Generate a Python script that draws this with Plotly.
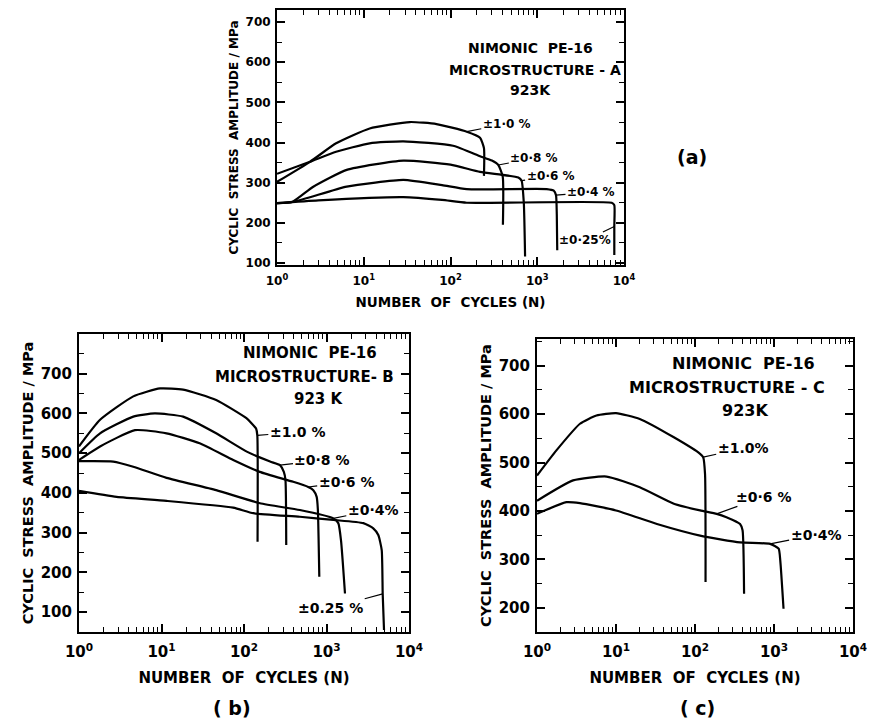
import math
import plotly.graph_objects as go

# ---------------- data ----------------
strain_labels_a = ["±1·0 %", "±0·8 %", "±0·6 %", "±0·4 %", "±0·25%"]
a_N_10 = [1, 2.4, 4.8, 11.7, 34, 69, 154, 219, 243, 243]
a_S_10 = [302, 352, 398, 435, 451, 446, 427, 412, 386, 317]
a_N_08 = [1, 2.4, 4.8, 11.7, 28.6, 107, 219, 300, 356, 400, 402]
a_S_08 = [322, 352, 377, 398, 403, 392, 366, 355, 344, 315, 195]
a_N_06 = [1, 1.5, 2.62, 6.36, 28.6, 100, 219, 605, 660, 700, 724]
a_S_06 = [249, 252, 290, 332, 355, 345, 327, 313, 305, 250, 116]
a_N_04 = [1, 1.6, 6.36, 28.6, 80, 154, 1285, 1550, 1645, 1680, 1700]
a_S_04 = [249, 253, 290, 307, 294, 284, 284, 280, 269, 220, 132]
a_N_025 = [1, 3, 28.6, 80, 154, 7210, 7730, 7730, 7730]
a_S_025 = [249, 256, 264, 257, 250, 250, 244, 191, 120]

strain_labels_b = ["±1.0 %", "±0·8 %", "±0·6 %", "±0·4%", "±0.25 %"]
b_N_10 = [1, 1.8, 4.55, 9.6, 18.3, 46, 107, 124, 140, 145, 146]
b_S_10 = [517, 584, 643, 663, 660, 634, 588, 575, 562, 545, 277]
b_N_08 = [1, 1.8, 4.55, 8.3, 18.3, 46, 108, 207, 273, 304, 318, 325]
b_S_08 = [500, 550, 592, 600, 592, 550, 504, 479, 470, 453, 433, 269]
b_N_06 = [1, 1.8, 4.77, 11.5, 29, 74, 155, 395, 600, 692, 760, 785, 818]
b_S_06 = [483, 517, 558, 550, 525, 483, 453, 428, 415, 407, 390, 360, 189]
b_N_04 = [1, 2.6, 4.55, 11.5, 46, 156, 475, 1210, 1390, 1500, 1675]
b_S_04 = [480, 479, 466, 438, 407, 374, 357, 336, 324, 280, 147]
b_N_025 = [1, 2.86, 11.5, 74, 130, 475, 1210, 2795, 3690, 4245, 4670, 4800, 4980]
b_S_025 = [405, 390, 380, 363, 349, 340, 332, 324, 311, 294, 256, 146, 55]

strain_labels_c = ["±1.0%", "±0·6 %", "±0·4%"]
c_N_10 = [1, 1.76, 3.5, 5.66, 10, 20, 54, 116, 127, 134, 136]
c_S_10 = [473, 525, 580, 597, 602, 590, 552, 518, 511, 476, 253]
c_N_06 = [1, 2.86, 7.6, 20, 54, 116, 188, 250, 372, 400, 418]
c_S_06 = [421, 463, 471, 449, 415, 401, 394, 387, 373, 360, 229]
c_N_04 = [1, 2.36, 3.5, 10, 33, 116, 372, 893, 1145, 1200, 1320]
c_S_04 = [394, 418, 416, 401, 373, 349, 335, 332, 322, 298, 198]

x_tick_vals = [1, 10, 100, 1000, 10000]
x_tick_text = ["10<sup>0</sup>", "10<sup>1</sup>", "10<sup>2</sup>", "10<sup>3</sup>", "10<sup>4</sup>"]
y_tick_vals = [100, 200, 300, 400, 500, 600, 700]
y_tick_vals_c = [200, 300, 400, 500, 600, 700]

heading_a = ["NIMONIC  PE-16", "MICROSTRUCTURE - A", "923K"]
heading_b = ["NIMONIC  PE-16", "MICROSTRUCTURE- B", "923 K"]
heading_c = ["NIMONIC  PE-16", "MICROSTRUCTURE - C", "923K"]
panel_letters = ["(a)", "( b)", "( c)"]

# ---------------- figure ----------------
W, H = 870, 723
FONT = "DejaVu Sans"

def px(x):
    return x / W

def py(y):
    return 1 - y / H

minor_vals = [m * 10 ** d for d in range(4) for m in range(2, 10)]

fig = go.Figure()

series = [
    ("x", "y", [(a_N_10, a_S_10), (a_N_08, a_S_08), (a_N_06, a_S_06), (a_N_04, a_S_04), (a_N_025, a_S_025)]),
    ("x2", "y2", [(b_N_10, b_S_10), (b_N_08, b_S_08), (b_N_06, b_S_06), (b_N_04, b_S_04), (b_N_025, b_S_025)]),
    ("x3", "y3", [(c_N_10, c_S_10), (c_N_06, c_S_06), (c_N_04, c_S_04)]),
]
for xa, ya, curves in series:
    for N, S in curves:
        fig.add_trace(go.Scatter(x=N, y=S, xaxis=xa, yaxis=ya, mode="lines",
                                 line=dict(color="black", width=2.2, shape="spline", smoothing=0.5),
                                 showlegend=False, hoverinfo="skip"))

def xaxis_cfg(domain, anchor, tick_size, title_size, standoff, lab_standoff):
    return dict(type="log", range=[0, 4], domain=domain, anchor=anchor, automargin=False,
                tickmode="array", tickvals=x_tick_vals, ticktext=x_tick_text,
                ticks="inside", ticklen=8, tickwidth=1.5, tickcolor="black",
                minor=dict(tickmode="array", tickvals=minor_vals, ticks="inside", ticklen=5,
                           tickwidth=1.2, tickcolor="black", showgrid=False),
                showline=True, linewidth=2, linecolor="black", mirror="allticks",
                showgrid=False, zeroline=False, ticklabelstandoff=lab_standoff,
                tickfont=dict(family=FONT, size=tick_size, color="black", weight="bold"),
                title=dict(text="NUMBER  OF  CYCLES (N)", standoff=standoff,
                           font=dict(family=FONT, size=title_size, color="black", weight="bold")))

def yaxis_cfg(domain, anchor, rng, tvals, tick_size, title_size, standoff):
    return dict(range=rng, domain=domain, anchor=anchor, automargin=False,
                tickmode="array", tickvals=tvals,
                ticks="inside", ticklen=8, tickwidth=1.5, tickcolor="black",
                minor=dict(dtick=50, tick0=0, ticks="inside", ticklen=5, tickwidth=1.2,
                           tickcolor="black", showgrid=False),
                showline=True, linewidth=2, linecolor="black", mirror="allticks",
                showgrid=False, zeroline=False, ticklabelstandoff=2,
                tickfont=dict(family=FONT, size=tick_size, color="black", weight="bold"),
                title=dict(text="CYCLIC  STRESS  AMPLITUDE / MPa", standoff=standoff,
                           font=dict(family=FONT, size=title_size, color="black", weight="bold")))

fig.update_layout(
    width=W, height=H, margin=dict(l=0, r=0, t=0, b=0, autoexpand=False),
    paper_bgcolor="white", plot_bgcolor="white",
    xaxis=xaxis_cfg([px(277), px(624)], "y", 12, 13.5, 10, 4),
    yaxis=yaxis_cfg([py(265), py(10)], "x", [95, 730], y_tick_vals, 12, 12, 4),
    xaxis2=xaxis_cfg([px(79), px(409)], "y2", 15, 15, 12, 5),
    yaxis2=yaxis_cfg([py(632), py(334)], "x2", [50, 800], y_tick_vals, 15, 14.5, 4),
    xaxis3=xaxis_cfg([px(537), px(853)], "y3", 15, 15, 12, 5),
    yaxis3=yaxis_cfg([py(632), py(339)], "x3", [150, 755], y_tick_vals_c, 15, 14.5, 4),
)

def lab(xref, yref, N, S, text, ax, ay, size):
    fig.add_annotation(x=math.log10(N), y=S, xref=xref, yref=yref, text=text,
                       showarrow=True, arrowhead=0, arrowwidth=1.2, arrowcolor="black",
                       ax=ax, ay=ay, standoff=0,
                       font=dict(family=FONT, size=size, color="black", weight="bold"))

# labels (a)
lab("x", "y", a_N_10[6], a_S_10[6], strain_labels_a[0], 40, -8, 12)
lab("x", "y", a_N_08[8], a_S_08[8], strain_labels_a[1], 36, -7, 12)
lab("x", "y", a_N_06[8], a_S_06[8], strain_labels_a[2], 29, -5, 12)
lab("x", "y", a_N_04[8], a_S_04[8], strain_labels_a[3], 35, -3, 12)
lab("x", "y", a_N_025[7], a_S_025[7], strain_labels_a[4], -29, 14, 12)
# labels (b)
lab("x2", "y2", b_N_10[9], b_S_10[9], strain_labels_b[0], 40, -3, 14)
lab("x2", "y2", b_N_08[8], b_S_08[8], strain_labels_b[1], 42, -5, 14)
lab("x2", "y2", b_N_06[8], b_S_06[8], strain_labels_b[2], 38, -5, 14)
lab("x2", "y2", b_N_04[7], b_S_04[7], strain_labels_b[3], 40, -8, 14)
lab("x2", "y2", b_N_025[11], b_S_025[11], strain_labels_b[4], -52, 14, 14)
# labels (c)
lab("x3", "y3", c_N_10[8], c_S_10[8], strain_labels_c[0], 40, -9, 14)
lab("x3", "y3", c_N_06[6], c_S_06[6], strain_labels_c[1], 47, -17, 14)
lab("x3", "y3", c_N_04[7], c_S_04[7], strain_labels_c[2], 46, -9, 14)

# panel headings, one line at a time
heading_pos = [
    (heading_a, [(530, 48), (535, 70), (530, 90)], 14),
    (heading_b, [(310, 353), (304, 377), (319, 399)], 15),
    (heading_c, [(743, 363), (727, 387), (745, 410)], 16),
]
for lines, pos, size in heading_pos:
    for txt, (xc, yc) in zip(lines, pos):
        fig.add_annotation(x=px(xc), y=py(yc), xref="paper", yref="paper", text=txt,
                           showarrow=False, xanchor="center", yanchor="middle",
                           font=dict(family=FONT, size=size, color="black", weight="bold"))

for (xc, yc), txt in zip([(692, 157), (232, 708), (697, 708)], panel_letters):
    fig.add_annotation(x=px(xc), y=py(yc), xref="paper", yref="paper", text=txt,
                       showarrow=False, xanchor="center", yanchor="middle",
                       font=dict(family=FONT, size=19, color="black", weight="bold"))

fig.write_html("out.html", config={"displayModeBar": False},
               post_script="document.body.style.margin='0';document.body.style.padding='0';")
